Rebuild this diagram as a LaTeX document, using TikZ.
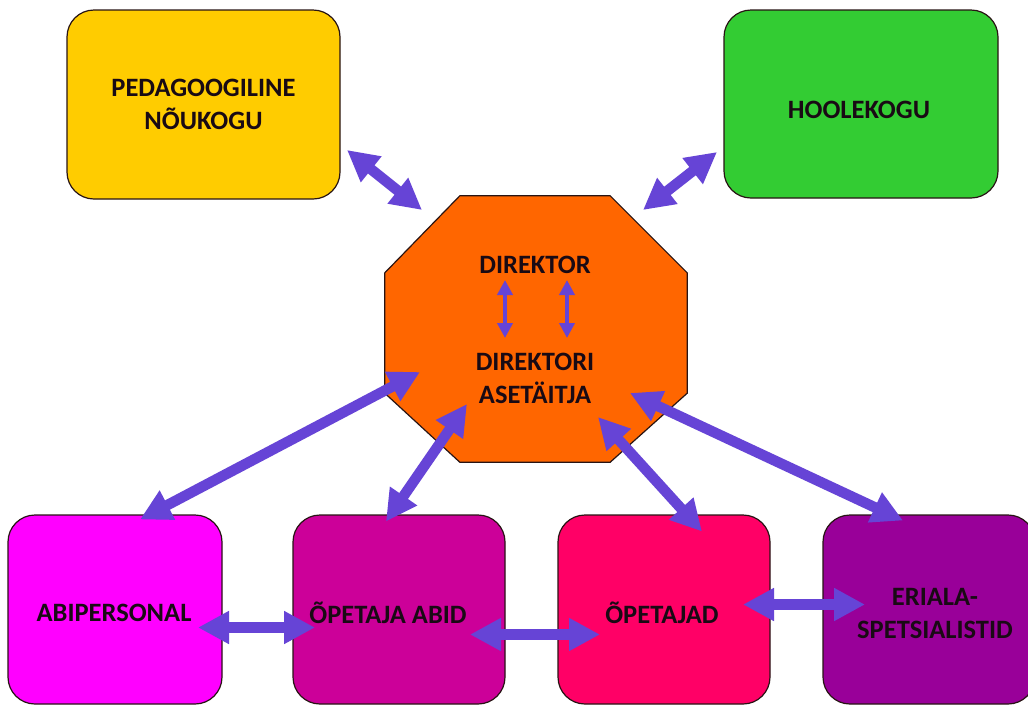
\documentclass[tikz,border=0pt]{standalone}
\usepackage{fontspec}
\setmainfont{Carlito}
\usetikzlibrary{arrows.meta,calc}
\definecolor{cyel}{RGB}{255,204,0}
\definecolor{cgrn}{RGB}{51,204,51}
\definecolor{corng}{RGB}{255,102,0}
\definecolor{cabi}{RGB}{255,0,255}
\definecolor{coab}{RGB}{204,0,153}
\definecolor{copt}{RGB}{255,0,102}
\definecolor{ceri}{RGB}{153,0,153}
\definecolor{carrow}{RGB}{102,68,214}
\definecolor{cline}{RGB}{40,20,20}
\definecolor{ctext}{RGB}{25,10,20}
\tikzset{
  boxnode/.style={draw=cline,line width=1.2pt,rounded corners=27pt,inner sep=0pt,align=center,
    text=ctext,font=\bfseries\fontsize{26.5}{33}\selectfont},
  txt/.style={inner sep=0pt,align=center,text=ctext,font=\bfseries\fontsize{26.5}{33}\selectfont},
  bigarrow/.style={draw=carrow,line width=10.5pt,{Triangle[width=31pt,length=31pt]}-{Triangle[width=31pt,length=31pt]}},
  smallarrow/.style={draw=carrow,line width=4.5pt,{Triangle[width=15pt,length=15pt]}-{Triangle[width=15pt,length=15pt]}}
}
\begin{document}
\begin{tikzpicture}[x=1pt,y=-1pt]
\useasboundingbox (0,0) rectangle (1028,705);
\clip (0,0) rectangle (1028,705);
\fill[white] (0,0) rectangle (1028,705);
% boxes
\node[boxnode,fill=cyel,minimum width=273pt,minimum height=189pt] (yel) at (203.5,104.5) {PEDAGOOGILINE\\NÕUKOGU};
\node[boxnode,fill=cgrn,minimum width=274pt,minimum height=188pt] (grn) at (861,104) {};
\node[txt] (grnt) at (859,110) {HOOLEKOGU};
\node[boxnode,fill=cabi,minimum width=214pt,minimum height=189pt] (abi) at (115,609.5) {};
\node[txt] (abit) at (114,613) {ABIPERSONAL};
\node[boxnode,fill=coab,minimum width=212pt,minimum height=189pt] (oab) at (399,609.5) {};
\node[txt] (oabt) at (388,613) {ÕPETAJA ABID};
\node[boxnode,fill=copt,minimum width=212pt,minimum height=189pt] (opt) at (664,609.5) {};
\node[txt] (optt) at (662,613) {ÕPETAJAD};
\node[boxnode,fill=ceri,minimum width=212pt,minimum height=189pt] (eri) at (929,609.5) {};
\node[txt] (erit) at (935,613) {ERIALA-\\SPETSIALISTID};
% octagon
\node[inner sep=0pt,minimum width=302pt,minimum height=266pt] (oct) at (536,329) {};
\draw[draw=cline,line width=1.2pt,fill=corng]
  ($(oct.north west)+(75,0)$) -- ($(oct.north east)+(-77,0)$) -- ($(oct.north east)+(0,77)$)
  -- ($(oct.south east)+(0,-69)$) -- ($(oct.south east)+(-77,0)$) -- ($(oct.south west)+(75,0)$)
  -- ($(oct.south west)+(0,-69)$) -- ($(oct.north west)+(0,77)$) -- cycle;
\node[txt] (dir) at (535,265) {DIREKTOR};
\node[txt] (asd) at (535,378) {DIREKTORI\\ASETÄITJA};
% small arrows
\draw[smallarrow] ($(oct)+(-31,-49)$) -- ($(oct)+(-31,9)$);
\draw[smallarrow] ($(oct)+(31,-49)$) -- ($(oct)+(31,9)$);
% big arrows
\draw[bigarrow] ($(yel)+(143.5,45.5)$) -- ($(oct)+(-114,-119)$);
\draw[bigarrow] ($(grn)+(-144,48)$) -- ($(oct)+(107,-119)$);
\draw[bigarrow] ($(abi)+(25,-90)$) -- ($(oct)+(-116,43)$);
\draw[bigarrow] ($(oab)+(-13,-88)$) -- ($(oct)+(-69,75)$);
\draw[bigarrow] ($(oct)+(62,88)$) -- ($(opt)+(38,-78)$);
\draw[bigarrow] ($(oct)+(94,64)$) -- ($(eri)+(-26,-89)$);
\draw[bigarrow] ($(abi)+(83,18)$) -- ($(oab)+(-84,18)$);
\draw[bigarrow] ($(oab)+(71,25)$) -- ($(opt)+(-64,25)$);
\draw[bigarrow] ($(opt)+(79,-5)$) -- ($(eri)+(-64,-5)$);
\end{tikzpicture}
\end{document}
